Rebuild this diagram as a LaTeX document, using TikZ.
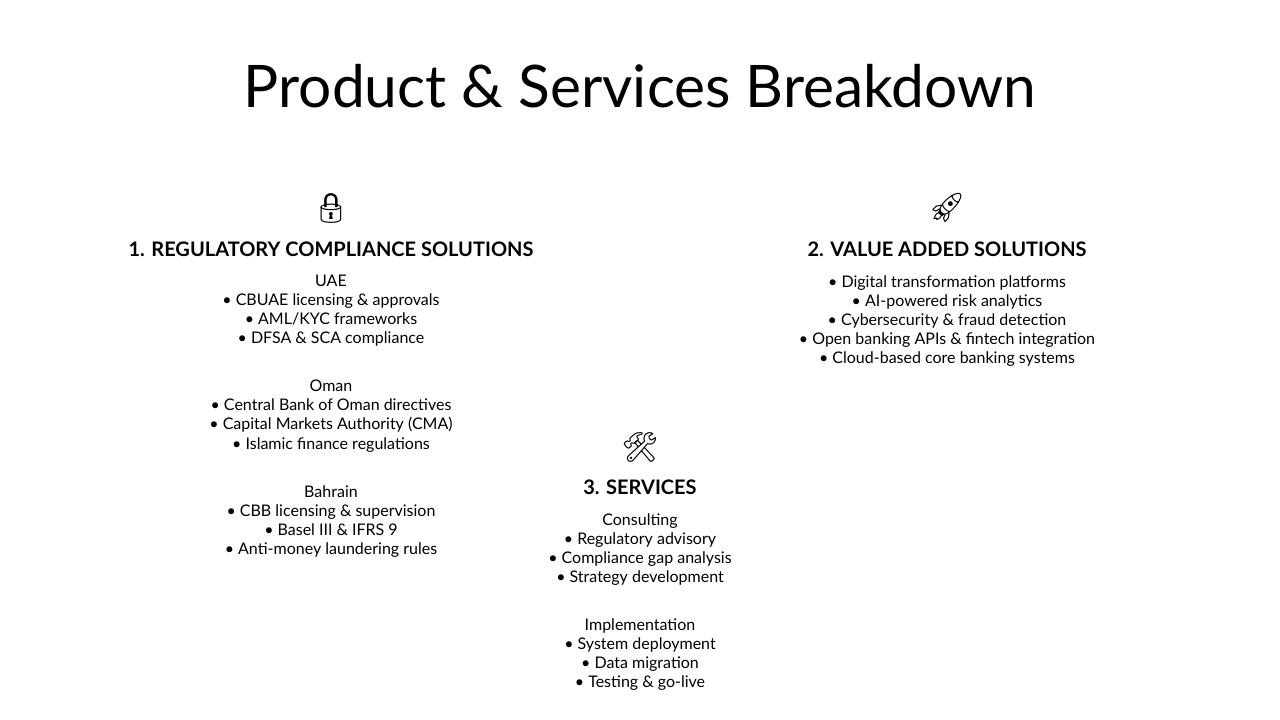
\documentclass[tikz,border=0pt]{standalone}
\usepackage{fontspec}
\setmainfont{Lato}
\newfontfamily\emojifont{Noto Emoji}
\usetikzlibrary{positioning}
\tikzset{
  heading/.style={font=\fontsize{15}{18}\selectfont\bfseries, inner sep=0pt},
  body/.style={font=\fontsize{12}{14.3}\selectfont, align=center, inner sep=0pt, anchor=north},
  icon/.style={font=\fontsize{22}{24}\selectfont\emojifont, inner sep=0pt}
}
\begin{document}
\begin{tikzpicture}[x=0.75pt,y=-0.75pt]
\useasboundingbox (0,0) rectangle (1280,720);
\node[font=\fontsize{44}{50}\selectfont, inner sep=0pt] (title) at (640,86) {Product \& Services Breakdown};
% column 1
\node[icon] (lock) at (331,208) {🔒};
\node[heading] (reg) at (331,249) {1. REGULATORY COMPLIANCE SOLUTIONS};
\node[body] (uae) at (331,275) {UAE\\• CBUAE licensing \& approvals\\• AML/KYC frameworks\\• DFSA \& SCA compliance};
\node[body] (oman) at (331,380) {Oman\\• Central Bank of Oman directives\\• Capital Markets Authority (CMA)\\• Islamic finance regulations};
\node[body] (bahrain) at (331,485) {Bahrain\\• CBB licensing \& supervision\\• Basel III \& IFRS 9\\• Anti-money laundering rules};
% column 2
\node[icon] (rocket) at (947,208) {🚀};
\node[heading] (value) at (947,249) {2. VALUE ADDED SOLUTIONS};
\node[body] (digital) at (947,275) {• Digital transformation platforms\\• AI-powered risk analytics\\• Cybersecurity \& fraud detection\\• Open banking APIs \& fintech integration\\• Cloud-based core banking systems};
% column 3
\node[icon] (tools) at (640,447) {🛠️};
\node[heading] (serv) at (640,487) {3. SERVICES};
\node[body] (consult) at (640,513) {Consulting\\• Regulatory advisory\\• Compliance gap analysis\\• Strategy development};
\node[body] (impl) at (640,618) {Implementation\\• System deployment\\• Data migration\\• Testing \& go-live};
\end{tikzpicture}
\end{document}
